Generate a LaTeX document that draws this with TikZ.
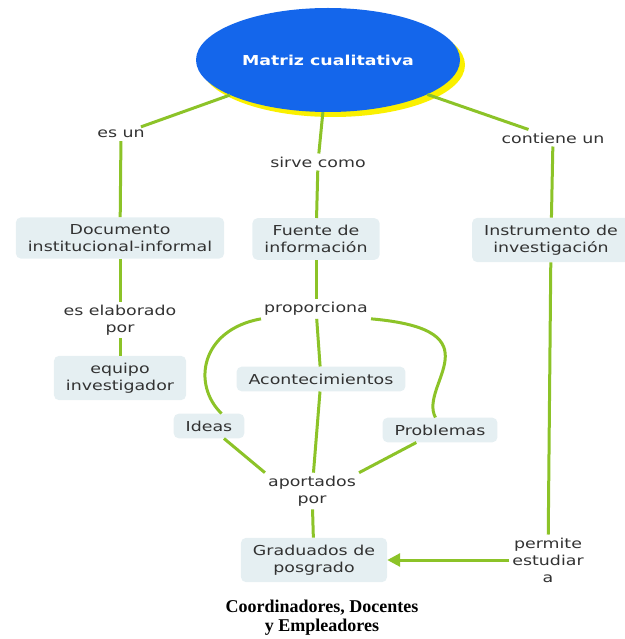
\documentclass[tikz,border=0pt]{standalone}
\usepackage{fontspec}
\setmainfont{DejaVu Sans}[FakeStretch=1.27]
\newfontfamily\capfont{Liberation Serif}
\usetikzlibrary{shapes.geometric, arrows.meta, shadows}

\definecolor{mapblue}{RGB}{20,102,235}
\definecolor{mapyellow}{RGB}{250,240,0}
\definecolor{mapgreen}{RGB}{140,195,40}
\definecolor{boxfill}{RGB}{229,239,242}
\definecolor{maptext}{RGB}{50,50,50}

\tikzset{
    concept/.style={rectangle, rounded corners=5pt, fill=boxfill, text=maptext,
        align=center, inner xsep=12pt, inner ysep=7pt},
    linkword/.style={text=maptext, align=center, inner sep=3pt},
    link/.style={draw=mapgreen, line width=3pt},
}

\begin{document}
\begin{tikzpicture}[x=1pt, y=-1pt, font=\fontsize{13.7}{17}\selectfont]
    \useasboundingbox (0,0) rectangle (624,639);
    %% main topic
    \node[ellipse, fill=mapblue, text=white, font=\fontsize{13.7}{17}\selectfont\bfseries,
        minimum width=264pt, minimum height=104pt,
        drop shadow={fill=mapyellow, opacity=1, shadow xshift=5pt, shadow yshift=-5pt}]
        (matriz) at (328,60) {\raisebox{-3pt}{Matriz cualitativa}};
    %% linking words
    \node[linkword] (esun) at (121,134) {es un};
    \node[linkword] (sirve) at (318,162) {sirve como};
    \node[linkword] (contiene) at (553,138) {contiene un};
    \node[linkword] (elaborado) at (120,320) {es elaborado\\por};
    \node[linkword] (proporciona) at (316,309) {proporciona};
    \node[linkword] (aportados) at (312,491) {aportados\\por};
    \node[linkword] (permite) at (548,560) {permite\\estudiar\\a};
    %% concepts
    \node[concept] (documento) at (120,238) {Documento\\institucional-informal};
    \node[concept] (fuente) at (316,239) {Fuente de\\información};
    \node[concept] (instrumento) at (551,240) {Instrumento de\\investigación};
    \node[concept] (equipo) at (120,378) {equipo\\investigador};
    \node[concept] (acont) at (321,379) {Acontecimientos};
    \node[concept] (ideas) at (209,426) {Ideas};
    \node[concept] (problemas) at (440,430) {Problemas};
    \node[concept] (graduados) at (314,560) {Graduados de\\posgrado};
    % caption below the map
    \node[align=center, font=\capfont\fontsize{18}{19}\selectfont\bfseries] (caption) at (322,618)
        {Coordinadores, Docentes\\y Empleadores};
    %% connectors
    \draw[link] (matriz) -- (esun);
    \draw[link] (esun) -- (documento);
    \draw[link] (documento) -- (elaborado);
    \draw[link] (elaborado) -- (equipo);
    \draw[link] (matriz) -- (sirve);
    \draw[link] (sirve) -- (fuente);
    \draw[link] (fuente) -- (proporciona);
    \draw[link] (proporciona) -- (acont);
    % curved branches
    \draw[link] (proporciona.south west) .. controls (200,330) and (192,385) .. (ideas.45);
    \draw[link] (proporciona.south east) .. controls (500,330) and (418,385) .. (problemas.110);
    \draw[link] (ideas) -- (aportados.north west);
    \draw[link] (acont) -- (aportados);
    \draw[link] (problemas) -- (aportados.north east);
    \draw[link] (aportados) -- (graduados);
    \draw[link] (matriz) -- (contiene);
    \draw[link] (contiene) -- (instrumento);
    \draw[link] (instrumento) -- (permite);
    \draw[link, -{Triangle[length=13pt, width=13pt]}] (permite) -- (graduados);
\end{tikzpicture}
\end{document}
